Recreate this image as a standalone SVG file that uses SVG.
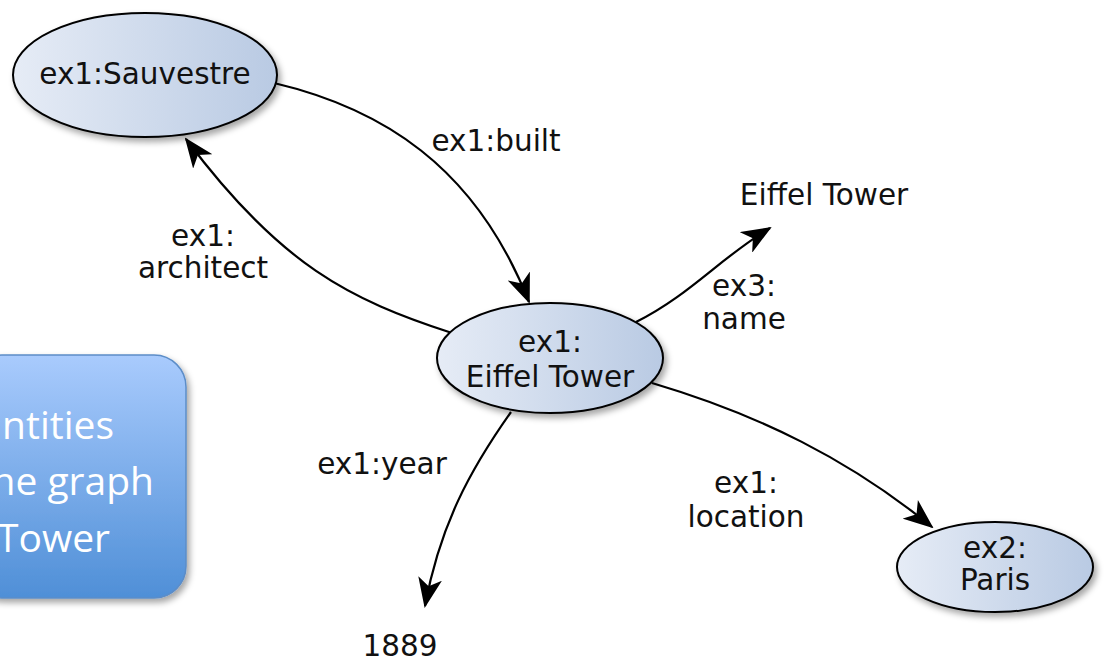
<svg xmlns="http://www.w3.org/2000/svg" width="1105" height="660" viewBox="0 0 1105 660">
  <defs>
    <linearGradient id="nodeFill" x1="0" y1="0" x2="1" y2="0">
      <stop offset="0" stop-color="#e6ecf6"/>
      <stop offset="1" stop-color="#b9cae3"/>
    </linearGradient>
    <linearGradient id="boxFill" x1="0" y1="0" x2="0" y2="1">
      <stop offset="0" stop-color="#a9cbfd"/>
      <stop offset="1" stop-color="#4f8fd7"/>
    </linearGradient>
    <filter id="shadow" x="-20%" y="-20%" width="140%" height="150%">
      <feDropShadow dx="3" dy="4" stdDeviation="3" flood-color="#000" flood-opacity="0.35"/>
    </filter>
    <marker id="arrow" viewBox="0 0 30 24" refX="28" refY="12" markerWidth="30" markerHeight="24" markerUnits="userSpaceOnUse" orient="auto">
      <path d="M0,0 L30,12 L0,24 L8,12 Z" fill="#000"/>
    </marker>
    <style>
      .node { fill: url(#nodeFill); stroke: #000; stroke-width: 2; filter: url(#shadow); }
      .edge { fill: none; stroke: #000; stroke-width: 2.2; marker-end: url(#arrow); }
      .lbl { font-family: "DejaVu Sans", sans-serif; font-size: 29.5px; fill: #111; text-anchor: middle; }
      .note { font-family: "Open Sans", "Noto Sans", sans-serif; font-size: 39px; fill: #fff; text-anchor: end; }
    </style>
  </defs>

  <!-- callout box on the left edge -->
  <g id="callout">
    <rect x="-30" y="355" width="216" height="243" rx="32" fill="url(#boxFill)" stroke="#5c8dc8" stroke-width="1.5" filter="url(#shadow)"/>
    <text class="note" x="114" y="439">ntities</text>
    <text class="note" x="154" y="495">he graph</text>
    <text class="note" x="110" y="552">Tower</text>
  </g>

  <!-- connectors -->
  <g id="edges">
    <path class="edge" d="M274,83 C380,108 475,165 529,302"/>
    <path class="edge" d="M452,333 C350,300 280,265 186,139"/>
    <path class="edge" d="M636,322 C690,295 720,258 770,228"/>
    <path class="edge" d="M511,412 C470,470 440,525 425,606"/>
    <path class="edge" d="M652,383 C760,415 850,460 932,527"/>
  </g>

  <!-- edge labels -->
  <g id="edge-labels">
    <text class="lbl" x="496" y="151">ex1:built</text>
    <text class="lbl" x="203" y="246">ex1:</text>
    <text class="lbl" x="203" y="278">architect</text>
    <text class="lbl" x="744" y="296">ex3:</text>
    <text class="lbl" x="744" y="329">name</text>
    <text class="lbl" x="382" y="474">ex1:year</text>
    <text class="lbl" x="746" y="493">ex1:</text>
    <text class="lbl" x="746" y="527">location</text>
  </g>

  <g id="node-sauvestre">
    <ellipse class="node" cx="145" cy="75" rx="132" ry="62"/>
    <text class="lbl" x="145" y="84">ex1:Sauvestre</text>
  </g>

  <g id="node-eiffel">
    <ellipse class="node" cx="550" cy="358" rx="113" ry="55"/>
    <text class="lbl" x="550" y="352">ex1:</text>
    <text class="lbl" x="550" y="387">Eiffel Tower</text>
  </g>

  <g id="node-paris">
    <ellipse class="node" cx="995" cy="567" rx="98" ry="45"/>
    <text class="lbl" x="995" y="558">ex2:</text>
    <text class="lbl" x="995" y="590">Paris</text>
  </g>

  <g id="literal-name">
    <text class="lbl" x="824" y="205">Eiffel Tower</text>
  </g>

  <g id="literal-year">
    <text class="lbl" x="400" y="656">1889</text>
  </g>
</svg>
